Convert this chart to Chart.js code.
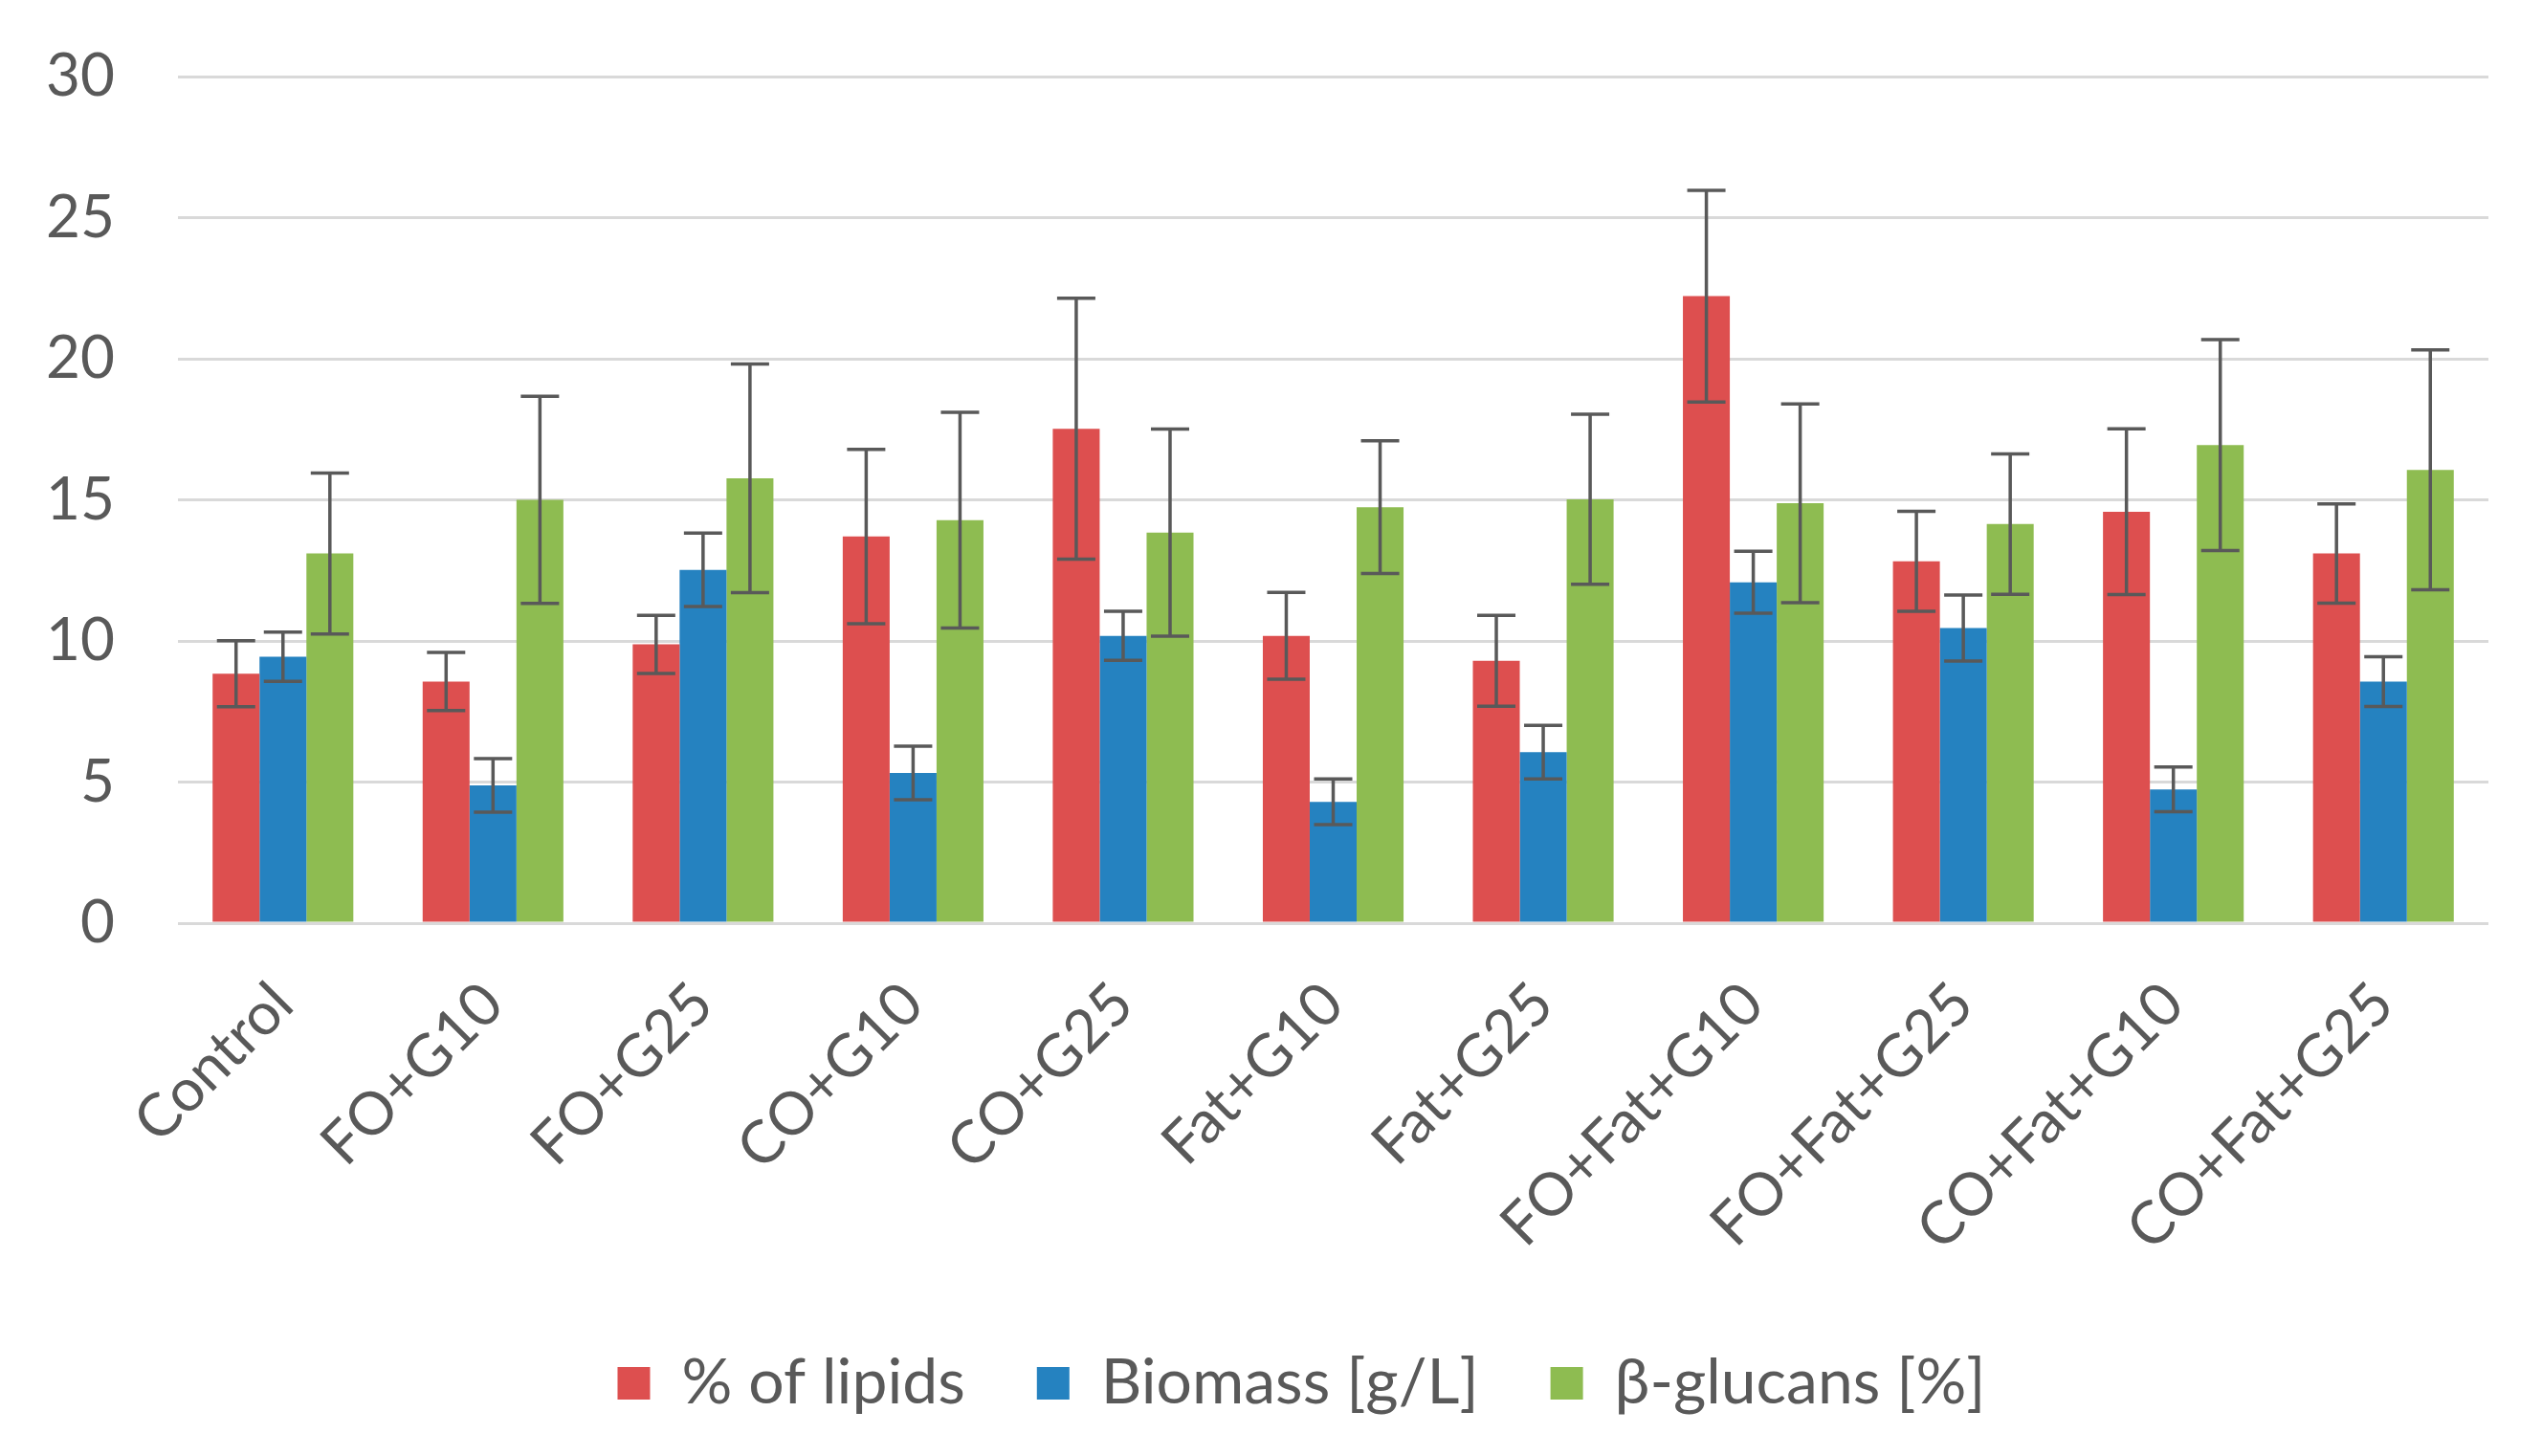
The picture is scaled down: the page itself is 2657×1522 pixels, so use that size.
<!DOCTYPE html>
<html>
<head>
<meta charset="utf-8">
<script src="https://cdn.jsdelivr.net/npm/chart.js@4/dist/chart.umd.min.js"></script>
<style>
  html, body { margin: 0; padding: 0; background: #ffffff; }
  #chart { display: block; }
</style>
</head>
<body>
<canvas id="chart" width="2657" height="1522"></canvas>
<script>
// Categories along the x-axis
var groups = ["Control", "FO+G10", "FO+G25", "CO+G10", "CO+G25", "Fat+G10", "Fat+G25",
              "FO+Fat+G10", "FO+Fat+G25", "CO+Fat+G10", "CO+Fat+G25"];
// Series values and their error bars (+/-)
var lipids = [8.84, 8.56, 9.88, 13.7, 17.52, 10.18, 9.3, 22.22, 12.82, 14.58, 13.1];
var lipidsErr = [1.17, 1.03, 1.03, 3.09, 4.62, 1.54, 1.61, 3.75, 1.77, 2.94, 1.76];
var biomass = [9.44, 4.88, 12.52, 5.32, 10.18, 4.3, 6.06, 12.08, 10.46, 4.74, 8.56];
var biomassErr = [0.87, 0.95, 1.3, 0.95, 0.87, 0.81, 0.95, 1.1, 1.17, 0.79, 0.88];
var glucans = [13.1, 15.0, 15.76, 14.28, 13.84, 14.74, 15.02, 14.88, 14.14, 16.94, 16.06];
var glucansErr = [2.85, 3.67, 4.05, 3.82, 3.67, 2.35, 3.01, 3.52, 2.49, 3.74, 4.25];
// y-axis range
var yMin = 0, yMax = 30, yStep = 5;

var textColor = "#595959";
var fontFamily = "Lato, 'Open Sans', sans-serif";

// draws the error bars through the y scale
var errorBars = {
  id: "errorBars",
  afterDatasetsDraw: function(chart) {
    var ctx = chart.ctx;
    var y = chart.scales.y;
    ctx.save();
    ctx.strokeStyle = "#595959";
    ctx.lineWidth = 3.5;
    chart.data.datasets.forEach(function(ds, i) {
      var meta = chart.getDatasetMeta(i);
      meta.data.forEach(function(bar, j) {
        var v = ds.data[j], e = ds.errors[j];
        var top = y.getPixelForValue(v + e);
        var bottom = y.getPixelForValue(v - e);
        var half = 20;
        ctx.beginPath();
        ctx.moveTo(bar.x, top);
        ctx.lineTo(bar.x, bottom);
        ctx.moveTo(bar.x - half, top);
        ctx.lineTo(bar.x + half, top);
        ctx.moveTo(bar.x - half, bottom);
        ctx.lineTo(bar.x + half, bottom);
        ctx.stroke();
      });
    });
    ctx.restore();
  }
};

// the legend sits a little right of the canvas centre in the original
var legendShift = {
  id: "legendShift",
  afterLayout: function(chart) {
    if (chart.legend) {
      chart.legend.left += 60;
      chart.legend.right += 60;
    }
  }
};

var ctx = document.getElementById("chart");
var chart = new Chart(ctx, {
  type: "bar",
  data: {
    labels: groups,
    datasets: [
      { label: "% of lipids", data: lipids, errors: lipidsErr, backgroundColor: "#dd4f4f" },
      { label: "Biomass [g/L]", data: biomass, errors: biomassErr, backgroundColor: "#2582c0" },
      { label: "β-glucans [%]", data: glucans, errors: glucansErr, backgroundColor: "#8ebc51" }
    ]
  },
  options: {
    responsive: false,
    devicePixelRatio: 1,
    animation: false,
    categoryPercentage: 0.67,
    barPercentage: 1.0,
    layout: { padding: { top: 80, left: 0, right: 56, bottom: 33 } },
    plugins: {
      tooltip: { enabled: false },
      legend: {
        position: "bottom",
        labels: {
          boxWidth: 34,
          boxHeight: 34,
          padding: 75,
          color: textColor,
          font: { family: fontFamily, size: 66 }
        }
      }
    },
    scales: {
      x: {
        grid: { display: false },
        border: { display: false },
        ticks: {
          autoSkip: false,
          minRotation: 45,
          maxRotation: 45,
          padding: 40,
          color: textColor,
          font: { family: fontFamily, size: 62 }
        },
        afterFit: function(scale) { scale.height = 373; }
      },
      y: {
        min: yMin,
        max: yMax,
        border: { display: false },
        grid: { color: "#d9d9d9", lineWidth: 3, drawTicks: true, tickLength: 60, tickColor: "rgba(0,0,0,0)" },
        ticks: {
          stepSize: yStep,
          padding: 6,
          color: textColor,
          font: { family: fontFamily, size: 62 }
        },
        afterFit: function(scale) { scale.width = 186; }
      }
    }
  },
  plugins: [errorBars, legendShift]
});
</script>
</body>
</html>
